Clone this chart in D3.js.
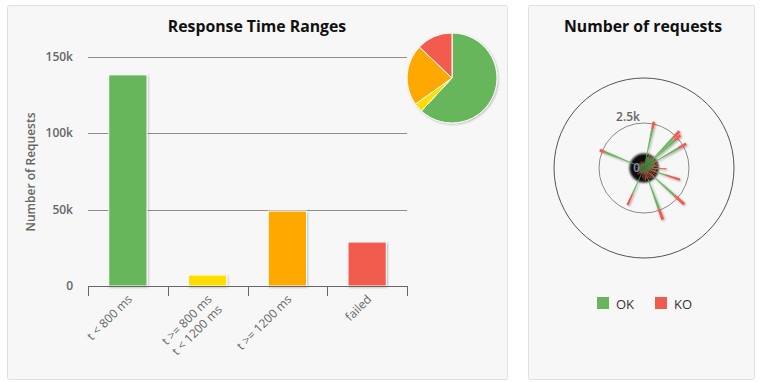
<!DOCTYPE html>
<html><head><meta charset="utf-8">
<script src="https://cdn.jsdelivr.net/npm/d3@7"></script>
<style>
html,body{margin:0;padding:0;background:#fff;}
svg{display:block;font-family:"Open Sans",sans-serif;}
</style></head><body>
<svg id="c" width="762" height="382"></svg>
<script>
// ---------- data ----------
const rangeCategories = ["t < 800 ms", "t >= 800 ms\nt < 1200 ms", "t >= 1200 ms", "failed"];
const rangeValues = [138300, 7200, 49100, 28800];
const rangeColors = ["#68b65c", "#ffdd00", "#ffa900", "#f15b4f"];
const yTicks = [0, 50000, 100000, 150000];
const yTickLabels = ["0", "50k", "100k", "150k"];

const requestNames = d3.range(90).map(i => "request_" + (i + 1));
const okCounts = [
 200, 300, 250, 2180, 550, 650, 700, 600, 680, 700,
 620, 2330, 2270, 660, 700, 2200, 650, 600, 680, 550,
 600, 500, 450, 800, 300, 300, 350, 1300, 200, 250,
 300, 200, 300, 2250, 200, 250, 200, 300, 200, 250,
 2400, 200, 300, 200, 250, 300, 200, 250, 200, 300,
 250, 1550, 300, 250, 200, 350, 250, 300, 200, 250,
 300, 250, 200, 300, 250, 200, 300, 250, 200, 300,
 250, 200, 300, 2350, 250, 200, 300, 250, 200, 300,
 250, 200, 300, 250, 200, 300, 250, 200, 300, 250];
const koCounts = [
 50, 100, 50, 450, 100, 50, 100, 50, 80, 50,
 100, 500, 450, 50, 80, 500, 100, 50, 100, 200,
 100, 300, 100, 450, 400, 100, 350, 800, 500, 100,
 450, 100, 400, 750, 550, 100, 500, 100, 450, 100,
 650, 400, 100, 500, 50, 350, 100, 300, 50, 100,
 50, 700, 100, 50, 150, 100, 50, 200, 50, 100,
 50, 150, 50, 100, 50, 200, 50, 100, 50, 150,
 50, 100, 50, 300, 50, 100, 50, 150, 50, 100,
 50, 100, 50, 150, 50, 100, 50, 100, 50, 100];
const polarTicks = [0, 2500];
const polarTickLabels = ["0", "2.5k"];
const legendItems = ["OK", "KO"];
const legendColors = ["#68b65c", "#f15b4f"];

// ---------- drawing ----------
const svg = d3.select("#c");
const defs = svg.append("defs");
const sh = defs.append("filter").attr("id","shadow").attr("x","-20%").attr("y","-20%").attr("width","150%").attr("height","150%");
sh.append("feGaussianBlur").attr("in","SourceAlpha").attr("stdDeviation",1.2).attr("result","b");
sh.append("feOffset").attr("in","b").attr("dx",1).attr("dy",1).attr("result","o");
sh.append("feComponentTransfer").attr("in","o").attr("result","o2").append("feFuncA").attr("type","linear").attr("slope",0.25);
const m = sh.append("feMerge"); m.append("feMergeNode").attr("in","o2"); m.append("feMergeNode").attr("in","SourceGraphic");
const sp = defs.append("filter").attr("id","spokeShadow").attr("x","-50%").attr("y","-50%").attr("width","200%").attr("height","200%");
sp.append("feGaussianBlur").attr("in","SourceAlpha").attr("stdDeviation",1.3).attr("result","b");
sp.append("feOffset").attr("in","b").attr("dx",1).attr("dy",1).attr("result","o");
sp.append("feComponentTransfer").attr("in","o").attr("result","o2").append("feFuncA").attr("type","linear").attr("slope",0.35);
const m2 = sp.append("feMerge"); m2.append("feMergeNode").attr("in","o2"); m2.append("feMergeNode").attr("in","SourceGraphic");
const blurF = defs.append("filter").attr("id","blob").attr("x","-50%").attr("y","-50%").attr("width","200%").attr("height","200%");
blurF.append("feGaussianBlur").attr("stdDeviation",1);

// panels
svg.append("rect").attr("x",7.5).attr("y",5.5).attr("width",500).attr("height",374).attr("rx",2)
  .attr("fill","#f7f7f7").attr("stroke","#e0e0e0");
svg.append("rect").attr("x",528.5).attr("y",5.5).attr("width",226).attr("height",374).attr("rx",2)
  .attr("fill","#f7f7f7").attr("stroke","#e0e0e0");

// ---- left chart ----
svg.append("text").attr("x",257).attr("y",32).attr("text-anchor","middle")
  .attr("font-size",15.8).attr("font-weight","bold").attr("fill","#111").text("Response Time Ranges");

const x = d3.scaleBand().domain(rangeCategories).range([88, 407]).padding(0);
const y = d3.scaleLinear().domain([0, 150000]).range([286, 57]);

const gl = svg.append("g");
gl.selectAll("line.grid").data(yTicks.filter(v => v > 0)).join("line")
  .attr("x1",88).attr("x2",407).attr("y1",d=>Math.round(y(d))+0.5).attr("y2",d=>Math.round(y(d))+0.5)
  .attr("stroke","#8e8e8e").attr("stroke-width",1);
gl.selectAll("text.yl").data(yTicks).join("text")
  .attr("x",73).attr("y",d=>y(d)+4).attr("text-anchor","end")
  .attr("font-size",12).attr("font-weight",600).attr("fill","#666")
  .text((d,i)=>yTickLabels[i]);
svg.append("text").attr("transform","translate(35,172) rotate(-90)").attr("text-anchor","middle")
  .attr("font-size",12).attr("font-weight",600).attr("fill","#666").text("Number of Requests");

const bw = x.bandwidth() * 0.48;
svg.append("g").selectAll("rect").data(rangeValues).join("rect")
  .attr("x",(d,i)=>x(rangeCategories[i]) + (x.bandwidth()-bw)/2)
  .attr("y",d=>y(d)).attr("width",bw).attr("height",d=>y(0)-y(d))
  .attr("fill",(d,i)=>rangeColors[i]).attr("stroke","#fff").attr("stroke-width",1)
  .attr("filter","url(#shadow)");

// x axis
const xa = svg.append("g");
xa.append("line").attr("x1",88).attr("x2",407).attr("y1",286.5).attr("y2",286.5).attr("stroke","#666");
const bounds = rangeCategories.map(c => x(c)).concat([x.range()[1]]);
xa.selectAll("line.tk").data(bounds).join("line")
  .attr("x1",d=>Math.round(d)+0.5).attr("x2",d=>Math.round(d)+0.5).attr("y1",286).attr("y2",296).attr("stroke","#666");
const lab = xa.selectAll("text.xl").data(rangeCategories).join("text")
  .attr("transform",d=>`translate(${x(d)+x.bandwidth()/2+5},300) rotate(-45)`)
  .attr("text-anchor","end").attr("font-size",12).attr("fill","#666");
lab.each(function(d){
  const t = d3.select(this);
  d.split("\n").forEach((line,k)=>{
    t.append("tspan").attr("x",0).attr("dy",k===0?0:"1.2em").text(line);
  });
});

// pie
const pie = d3.pie().sort(null).value(d=>d);
const arc = d3.arc().innerRadius(0).outerRadius(45);
svg.append("g").attr("transform","translate(452,78)").attr("filter","url(#shadow)")
  .selectAll("path").data(pie(rangeValues)).join("path")
  .attr("d",arc).attr("fill",(d,i)=>rangeColors[i]).attr("stroke","#fff").attr("stroke-width",1);

// ---- right chart ----
svg.append("text").attr("x",643).attr("y",32).attr("text-anchor","middle")
  .attr("font-size",15.8).attr("font-weight","bold").attr("fill","#111").text("Number of requests");

const cx = 644, cy = 168;
const r = d3.scaleLinear().domain([0, 5000]).range([0, 90]);
const pg = svg.append("g").attr("transform",`translate(${cx},${cy})`);
pg.append("circle").attr("r",r(5000)).attr("fill","none").attr("stroke","#555");
pg.append("circle").attr("r",r(2500)).attr("fill","none").attr("stroke","#8a8a8a");

// dark center (shadows of stacked columns)
pg.append("circle").attr("r",14.5).attr("fill","#0a0a0a").attr("filter","url(#blob)");

const N = requestNames.length;
const step = 2*Math.PI/N;
const half = step*0.42;
const wedge = d3.arc();
const sg = pg.append("g").attr("filter","url(#spokeShadow)");
requestNames.forEach((n,i)=>{
  const a = i*step;
  sg.append("path").attr("d",wedge({innerRadius:0,outerRadius:r(okCounts[i]),startAngle:a-half,endAngle:a+half}))
    .attr("fill","#68b65c");
  sg.append("path").attr("d",wedge({innerRadius:r(okCounts[i]),outerRadius:r(okCounts[i]+koCounts[i]),startAngle:a-half,endAngle:a+half}))
    .attr("fill","#f15b4f");
});

pg.selectAll("text.pl").data(polarTicks).join("text")
  .attr("x",-4).attr("y",d=>-r(d)-2 + (d===0?6:0)).attr("text-anchor","end")
  .attr("font-size",12).attr("font-weight",600).attr("fill",(d)=>d===0?"#7a8fb0":"#666")
  .text((d,i)=>polarTickLabels[i]);

// legend
const lg = svg.append("g");
const lx = [597, 655];
legendItems.forEach((t,i)=>{
  lg.append("rect").attr("x",lx[i]).attr("y",297).attr("width",12).attr("height",12).attr("fill",legendColors[i]);
  lg.append("text").attr("x",lx[i]+19).attr("y",308.5).attr("font-size",13).attr("fill","#333").text(t);
});
</script>
</body></html>
